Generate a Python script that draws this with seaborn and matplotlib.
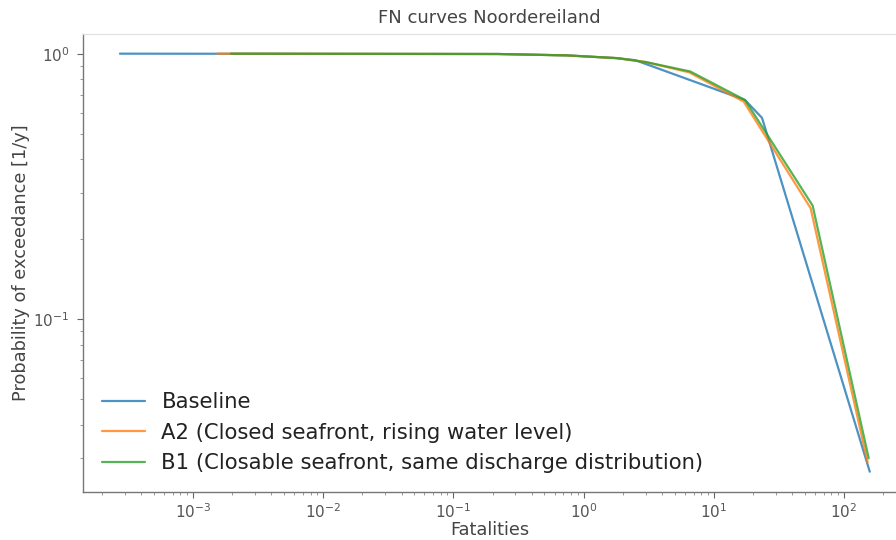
import numpy as np
import pandas as pd
import matplotlib
matplotlib.use("Agg")
import matplotlib.pyplot as plt
from matplotlib.ticker import NullFormatter
import seaborn as sns

# FN curve data: number of fatalities N and exceedance probability F(N)
baseline_n = [2.75e-4, 0.22, 0.75, 1.8, 2.5, 17.4, 23.5, 158.0]
baseline_f = [1.0, 0.997, 0.985, 0.962, 0.945, 0.669, 0.573, 0.0267]

a2_n = [1.54e-3, 0.22, 0.75, 1.8, 3.0, 6.5, 17.0, 55.5, 152.0]
a2_f = [1.0, 0.997, 0.985, 0.962, 0.93, 0.85, 0.66, 0.262, 0.029]

b1_n = [1.96e-3, 0.22, 0.75, 1.8, 3.0, 6.6, 17.4, 57.5, 155.0]
b1_f = [1.0, 0.997, 0.985, 0.962, 0.93, 0.857, 0.669, 0.268, 0.030]

scenarios = [
    "Baseline",
    "A2 (Closed seafront, rising water level)",
    "B1 (Closable seafront, same discharge distribution)",
]

df = pd.concat([
    pd.DataFrame({"N": baseline_n, "F": baseline_f, "scenario": scenarios[0]}),
    pd.DataFrame({"N": a2_n, "F": a2_f, "scenario": scenarios[1]}),
    pd.DataFrame({"N": b1_n, "F": b1_f, "scenario": scenarios[2]}),
], ignore_index=True)

sns.set_style("ticks")
plt.rcParams["font.family"] = ["DejaVu Sans"]

fig = plt.figure(figsize=(8.96, 5.40), dpi=100)
ax = fig.add_axes([83.3 / 896, 47.7 / 540, (896 - 83.3) / 896, (492.3 - 34) / 540])

palette = sns.color_palette("tab10", 3)
sns.lineplot(data=df, x="N", y="F", hue="scenario", palette=palette,
             estimator=None, sort=False, linewidth=1.6, alpha=0.8, ax=ax)

ax.set_xscale("log")
ax.set_yscale("log")
ax.set_xlim(10 ** -3.842, 10 ** 2.40)
ax.set_ylim(10 ** -1.651, 10 ** 0.074)
ax.xaxis.set_minor_formatter(NullFormatter())
ax.yaxis.set_minor_formatter(NullFormatter())

text_color = "#444444"
ax.set_title("FN curves Noordereiland", fontsize=13, color=text_color, pad=8)
ax.set_xlabel("Fatalities", fontsize=12.8, color=text_color, labelpad=0)
ax.set_ylabel("Probability of exceedance [1/y]", fontsize=12.8, color=text_color,
              labelpad=2)

ax.tick_params(axis="both", which="major", labelsize=11, colors="#666666",
               labelcolor="#555555", length=4, width=0.8)
ax.tick_params(axis="y", which="major", pad=6)
ax.tick_params(axis="both", which="minor", colors="#888888", length=2.5, width=0.6)

for side in ["left", "bottom"]:
    ax.spines[side].set_color("#777777")
    ax.spines[side].set_linewidth(1.0)
ax.spines["top"].set_visible(True)
ax.spines["top"].set_color("#e0e0e0")
ax.spines["right"].set_visible(False)

leg = ax.legend(loc="lower left", frameon=False, fontsize=15.2,
                bbox_to_anchor=(0.0, 0.0), handlelength=2.0,
                labelspacing=0.5, handletextpad=0.8)
for t in leg.get_texts():
    t.set_color("#222222")

fig.savefig("out.png", dpi=100)
